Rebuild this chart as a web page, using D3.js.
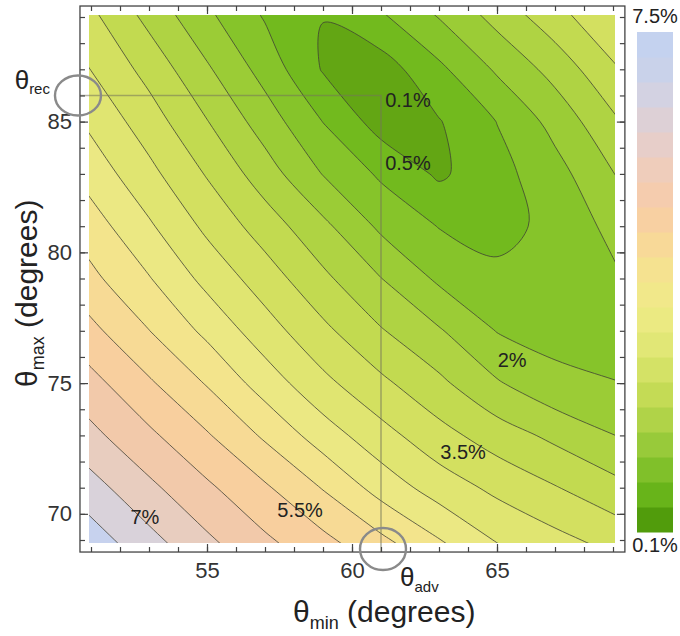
<!DOCTYPE html>
<html>
<head>
<meta charset="utf-8">
<script src="https://cdn.jsdelivr.net/npm/d3@7"></script>
<style>
  body { margin: 0; background: #fff; }
  svg text { font-family: "Liberation Sans", Arial, sans-serif; fill: #222; }
  .axis path { display: none; }
  .axis line { stroke: #444; stroke-width: 1.2; }
  .axis text { font-size: 22px; fill: #333; }
</style>
</head>
<body>
<div id="chart"></div>
<script>
// sample grid (degrees) and error surface (%)
var thetaMin = [51, 53, 55, 57, 59, 61, 63, 65, 67, 69];
var thetaMax = [89, 87, 85, 83, 81, 79, 77, 75, 73, 71, 69];
var errorPct = [
  [3.12, 2.36, 1.61, 0.96, 0.505, 0.92, 1.52, 2.16, 2.80, 3.44],
  [3.49, 2.83, 2.07, 1.31, 0.46, 0.25, 0.89, 1.57, 2.18, 2.92],
  [3.89, 3.24, 2.52, 1.76, 0.99, 0.28, 0.47, 1.01, 1.67, 2.40],
  [4.29, 3.64, 2.96, 2.24, 1.48, 0.92, 0.42, 0.83, 1.31, 1.98],
  [4.73, 4.07, 3.39, 2.76, 2.12, 1.40, 0.98, 0.79, 1.18, 1.62],
  [5.12, 4.53, 3.85, 3.25, 2.61, 2.01, 1.41, 1.15, 1.20, 1.42],
  [5.63, 5.01, 4.38, 3.72, 3.12, 2.54, 2.05, 1.48, 1.35, 1.37],
  [6.16, 5.57, 4.96, 4.27, 3.63, 3.11, 2.61, 2.05, 1.62, 1.51],
  [6.63, 6.10, 5.55, 4.92, 4.25, 3.68, 3.18, 2.75, 2.38, 2.01],
  [7.19, 6.61, 6.09, 5.57, 4.97, 4.30, 3.77, 3.38, 3.03, 2.67],
  [7.74, 7.15, 6.58, 6.08, 5.62, 5.10, 4.52, 3.96, 3.64, 3.33]
];
var levels = [0.5, 1, 1.5, 2, 2.5, 3, 3.5, 4, 4.5, 5, 5.5, 6, 6.5, 7, 7.5];
var bandColors = ["#63a614", "#72ba1e", "#86c42a", "#9bcc36", "#afd343", "#c2da50",
                  "#d3e060", "#e0e571", "#ebe883", "#f3e48c", "#f7da95", "#f8cf9e",
                  "#f2c9aa", "#e8cdbf", "#d9d2da", "#c7d2ee"];
// colour key stripes, bottom to top
var keyColors = ["#519c0c", "#68b41a", "#80c02a", "#98ca3a", "#b0d348", "#c4db55",
                 "#d4e266", "#e1e776", "#ebea82", "#f1e88a", "#f5e290", "#f8d998",
                 "#f8d0a2", "#f5ccae", "#efcdbb", "#e7cec9", "#ddd0d6", "#d3d2e2",
                 "#c9d2ea", "#c4d2ef"];
var xMajor = [55, 60, 65];
var yMajor = [70, 75, 80, 85];
var xMinor = [51, 52, 53, 54, 55, 56, 57, 58, 59, 60, 61, 62, 63, 64, 65, 66, 67, 68, 69];
var yMinor = [69, 70, 71, 72, 73, 74, 75, 76, 77, 78, 79, 80, 81, 82, 83, 84, 85, 86, 87, 88, 89];
var thetaRec = 86, thetaAdv = 61;
var labelText = ["0.1%", "0.5%", "2%", "3.5%", "5.5%", "7%"];
var labelTmin = [61.93, 61.93, 65.52, 63.83, 58.21, 52.86];
var labelTmax = [85.83, 83.42, 75.88, 72.37, 70.15, 69.88];
var barLabels = ["7.5%", "0.1%"];

var width = 680, height = 636;
var xFrame = [50.62, 69.41], yFrame = [68.54, 89.42];
var x = d3.scaleLinear().domain([51, 69]).range([91, 613]);
var y = d3.scaleLinear().domain([69, 89]).range([540, 17]);

var svg = d3.select("#chart").append("svg").attr("width", width).attr("height", height);

// clip for the filled contour area
var x0 = x(thetaMin[0]) - 2, x1 = x(thetaMin[thetaMin.length - 1]) + 2;
var y0 = y(thetaMax[0]) - 2, y1 = y(thetaMax[thetaMax.length - 1]) + 3;
svg.append("clipPath").attr("id", "plotclip").append("rect")
  .attr("x", x0).attr("y", y0).attr("width", x1 - x0).attr("height", y1 - y0);

// contours
var nx = thetaMin.length, ny = thetaMax.length;
var stepX = thetaMin[1] - thetaMin[0], stepY = thetaMax[0] - thetaMax[1];
var values = [];
errorPct.forEach(function(row) { row.forEach(function(v) { values.push(v); }); });
var contours = d3.contours().size([nx, ny]).thresholds(levels)(values);

// grid coords -> pixels; interior parts of each ring drawn as smooth curves
var openCurve = d3.line().curve(d3.curveCatmullRom.alpha(0.5));
var closedCurve = d3.line().curve(d3.curveCatmullRomClosed.alpha(0.5));
function toPx(p) {
  return [x(thetaMin[0] + (p[0] - 0.5) * stepX), y(thetaMax[0] - (p[1] - 0.5) * stepY)];
}
function onEdge(p) { return p[0] <= 0 || p[0] >= nx || p[1] <= 0 || p[1] >= ny; }
function extend(a, b, len) {
  var dx = a[0] - b[0], dy = a[1] - b[1], d = Math.sqrt(dx * dx + dy * dy) || 1;
  return [a[0] + dx / d * len, a[1] + dy / d * len];
}
function extendRun(run) {
  if (run.length < 2) return run;
  return [extend(run[0], run[1], 12)].concat(run, [extend(run[run.length - 1], run[run.length - 2], 12)]);
}
function splitRing(ring) {
  var pts = ring.slice(0, -1), start = -1;
  for (var i = 0; i < pts.length; i++) { if (onEdge(pts[i])) { start = i; break; } }
  if (start < 0) return null;
  pts = pts.slice(start).concat(pts.slice(0, start));
  var items = [], run = null;
  pts.forEach(function(p) {
    if (onEdge(p)) {
      if (run) { items.push({ run: run }); run = null; }
      items.push({ edge: toPx(p) });
    } else {
      if (!run) run = [];
      run.push(toPx(p));
    }
  });
  if (run) items.push({ run: run });
  return items;
}
function ringFill(ring) {
  var items = splitRing(ring);
  if (!items) return closedCurve(ring.slice(0, -1).map(toPx));
  var s = "";
  items.forEach(function(it) {
    if (it.edge) s += (s ? "L" : "M") + it.edge[0] + "," + it.edge[1];
    else s += openCurve(extendRun(it.run)).replace(/^M/, "L");
  });
  return s + "Z";
}
function ringStroke(ring) {
  var items = splitRing(ring);
  if (!items) return closedCurve(ring.slice(0, -1).map(toPx));
  return items.filter(function(it) { return it.run; })
    .map(function(it) { return openCurve(extendRun(it.run)); }).join("");
}
function fillPath(c) {
  return c.coordinates.map(function(poly) { return poly.map(ringFill).join(""); }).join("");
}
function strokePath(c) {
  return c.coordinates.map(function(poly) { return poly.map(ringStroke).join(""); }).join("");
}

var plot = svg.append("g").attr("clip-path", "url(#plotclip)");
plot.append("rect").attr("x", x0).attr("y", y0).attr("width", x1 - x0).attr("height", y1 - y0)
  .attr("fill", bandColors[0]);
plot.selectAll("path.band").data(contours).enter().append("path")
  .attr("class", "band")
  .attr("d", fillPath)
  .attr("fill-rule", "evenodd")
  .attr("fill", function(d, i) { return bandColors[i + 1]; });
plot.selectAll("path.iso").data(contours).enter().append("path")
  .attr("class", "iso")
  .attr("d", strokePath)
  .attr("fill", "none")
  .attr("stroke", "#3f3f34")
  .attr("stroke-opacity", 0.78)
  .attr("stroke-width", 1);

// theta_rec / theta_adv guide lines
svg.append("path")
  .attr("d", "M" + x(xFrame[0]) + "," + y(thetaRec) + "H" + x(thetaAdv) + "V" + y(yFrame[0]))
  .attr("fill", "none").attr("stroke", "#74745a").attr("stroke-opacity", 0.55).attr("stroke-width", 1.6);

// frame
svg.append("rect")
  .attr("x", x(xFrame[0])).attr("y", y(yFrame[1]))
  .attr("width", x(xFrame[1]) - x(xFrame[0])).attr("height", y(yFrame[0]) - y(yFrame[1]))
  .attr("fill", "none").attr("stroke", "#444").attr("stroke-width", 1.3);

// axes, ticks inward on all sides
function addAxis(axis, tx, ty) {
  svg.append("g").attr("class", "axis").attr("transform", "translate(" + tx + "," + ty + ")").call(axis);
}
addAxis(d3.axisBottom(x).tickValues(xMinor).tickSize(-5).tickFormat(""), 0, y(yFrame[0]));
addAxis(d3.axisBottom(x).tickValues(xMajor).tickSize(-8).tickPadding(10), 0, y(yFrame[0]));
addAxis(d3.axisTop(x).tickValues(xMinor).tickSize(-5).tickFormat(""), 0, y(yFrame[1]));
addAxis(d3.axisTop(x).tickValues(xMajor).tickSize(-8).tickFormat(""), 0, y(yFrame[1]));
addAxis(d3.axisLeft(y).tickValues(yMinor).tickSize(-5).tickFormat(""), x(xFrame[0]), 0);
addAxis(d3.axisLeft(y).tickValues(yMajor).tickSize(-8).tickPadding(8), x(xFrame[0]), 0);
addAxis(d3.axisRight(y).tickValues(yMinor).tickSize(-5).tickFormat(""), x(xFrame[1]), 0);
addAxis(d3.axisRight(y).tickValues(yMajor).tickSize(-8).tickFormat(""), x(xFrame[1]), 0);

// circles marking theta_rec and theta_adv
svg.append("ellipse").attr("cx", x(xFrame[0]) - 2).attr("cy", y(thetaRec))
  .attr("rx", 23).attr("ry", 20)
  .attr("fill", "none").attr("stroke", "#8a8a8a").attr("stroke-width", 2.4);
svg.append("ellipse").attr("cx", x(thetaAdv) + 2).attr("cy", y(yFrame[0]) - 3)
  .attr("rx", 23).attr("ry", 21)
  .attr("fill", "none").attr("stroke", "#8a8a8a").attr("stroke-width", 2.4);

var rec = svg.append("text").attr("x", x(xFrame[0]) - 30).attr("y", y(thetaRec) - 6)
  .attr("text-anchor", "end");
rec.append("tspan").attr("font-size", 26).text("θ");
rec.append("tspan").attr("font-size", 15).attr("dy", 5).text("rec");

var adv = svg.append("text").attr("x", x(thetaAdv) + 19).attr("y", y(yFrame[0]) + 34);
adv.append("tspan").attr("font-size", 26).text("θ");
adv.append("tspan").attr("font-size", 15).attr("dy", 6).text("adv");

// contour value labels
svg.selectAll("text.clabel").data(labelText).enter().append("text")
  .attr("class", "clabel")
  .attr("x", function(d, i) { return x(labelTmin[i]); })
  .attr("y", function(d, i) { return y(labelTmax[i]); })
  .attr("dy", "0.36em")
  .attr("text-anchor", "middle")
  .attr("font-size", 20)
  .text(function(d) { return d; });

// axis titles
var xt = svg.append("text").attr("x", 293).attr("y", 622);
xt.append("tspan").attr("font-size", 30).text("θ");
xt.append("tspan").attr("font-size", 18).attr("dy", 7).text("min");
xt.append("tspan").attr("font-size", 30).attr("dy", -7).text(" (degrees)");

var yt = svg.append("text").attr("transform", "translate(37,387) rotate(-90)");
yt.append("tspan").attr("font-size", 30).text("θ");
yt.append("tspan").attr("font-size", 18).attr("dy", 7).text("max");
yt.append("tspan").attr("font-size", 30).attr("dy", -7).text(" (degrees)");

// colour key
var bar = d3.scaleBand().domain(d3.range(keyColors.length)).range([532, 32]);
svg.append("g").selectAll("rect").data(keyColors).enter().append("rect")
  .attr("x", 637).attr("width", 36)
  .attr("y", function(d, i) { return bar(i); })
  .attr("height", bar.bandwidth() + 0.5)
  .attr("fill", function(d) { return d; });
svg.append("text").attr("x", 655).attr("y", 23).attr("text-anchor", "middle").attr("font-size", 20).text(barLabels[0]);
svg.append("text").attr("x", 655).attr("y", 552).attr("text-anchor", "middle").attr("font-size", 20).text(barLabels[1]);
</script>
</body>
</html>
